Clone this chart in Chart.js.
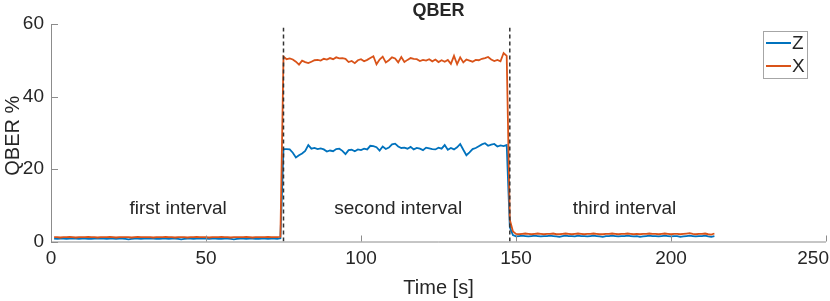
<!DOCTYPE html>
<html>
<head>
<meta charset="utf-8">
<script src="https://cdn.jsdelivr.net/npm/chart.js@4/dist/chart.umd.min.js"></script>
<style>
  html, body { margin: 0; padding: 0; background: #fff; }
  #wrap { width: 830px; height: 301px; }
</style>
</head>
<body>
<div id="wrap"><canvas id="qberChart"></canvas></div>
<script>
// QBER samples, one per second starting at t = 1 s
const zValues = [
  0.8,0.7,0.8,0.8,0.7,0.8,0.9,0.8,0.7,0.8,
  0.8,0.7,0.7,0.8,0.8,0.9,0.8,0.7,0.8,0.8,
  0.7,0.8,0.8,0.7,0.6,0.7,0.8,0.8,0.7,0.8,
  0.8,0.9,0.8,0.7,0.7,0.8,0.8,0.7,0.8,0.8,
  0.7,0.6,0.7,0.8,0.8,0.7,0.8,0.9,0.8,0.8,
  0.7,0.8,0.8,0.7,0.7,0.8,0.8,0.7,0.6,0.7,
  0.8,0.8,0.7,0.8,0.8,0.7,0.7,0.8,0.8,0.7,
  0.8,0.8,0.7,0.9,
  25.5,25.5,25.4,24.5,23.2,23.8,24.3,25.0,26.6,25.6,
  25.8,25.5,25.7,25.4,24.8,25.1,24.9,25.5,25.6,25.0,
  24.1,25.2,25.3,24.9,25.4,25.2,25.6,25.4,26.4,26.3,
  26.0,25.1,26.2,25.5,25.9,26.8,27.0,26.2,25.8,25.9,
  25.6,26.1,25.4,25.8,25.6,25.2,25.9,25.7,25.5,25.4,
  25.9,25.6,26.6,25.3,25.8,25.4,26.0,26.9,25.3,23.8,
  24.6,25.5,25.8,26.3,26.8,27.1,26.4,26.7,26.9,26.2,
  26.5,26.3,26.6,
  4.0,1.8,1.4,1.5,1.6,1.5,1.4,1.5,1.6,1.5,
  1.4,1.5,1.5,1.6,1.5,1.4,1.3,1.5,1.6,1.5,
  1.5,1.4,1.6,1.5,1.5,1.4,1.5,1.6,1.5,1.4,
  1.3,1.5,1.5,1.6,1.5,1.4,1.5,1.5,1.6,1.5,
  1.4,1.5,1.3,1.4,1.5,1.6,1.5,1.5,1.4,1.5,
  1.6,1.5,1.4,1.5,1.5,1.3,1.4,1.5,1.6,1.5,
  1.4,1.5,1.5,1.6,1.4,1.3,1.5
];
const xValues = [
  1.2,1.2,1.1,1.2,1.2,1.3,1.2,1.1,1.2,1.2,
  1.2,1.3,1.2,1.2,1.1,1.2,1.2,1.2,1.3,1.2,
  1.1,1.2,1.2,1.2,1.2,1.1,1.2,1.3,1.2,1.2,
  1.2,1.2,1.1,1.2,1.2,1.2,1.3,1.2,1.2,1.1,
  1.2,1.2,1.2,1.1,1.2,1.2,1.3,1.2,1.2,1.2,
  1.1,1.2,1.2,1.2,1.3,1.2,1.2,1.1,1.2,1.2,
  1.2,1.2,1.3,1.2,1.1,1.2,1.2,1.2,1.2,1.3,
  1.2,1.2,1.2,1.3,
  51.0,50.3,50.5,50.2,49.6,48.8,49.9,49.5,49.2,49.6,
  50.0,50.1,49.9,50.4,50.2,50.6,50.3,50.8,50.5,50.6,
  50.4,49.5,49.8,49.2,50.0,50.3,49.7,50.1,50.6,51.1,
  48.9,50.2,51.0,49.4,50.0,50.8,50.5,49.4,50.9,49.5,
  50.1,50.6,50.4,50.3,49.8,50.1,49.9,50.3,49.7,50.2,
  49.5,50.0,49.6,50.1,49.0,51.2,48.9,50.8,49.4,50.2,
  49.9,49.6,50.1,50.0,50.4,50.6,50.9,50.2,49.8,50.1,
  49.7,52.0,51.2,
  6.0,2.8,2.1,2.0,2.1,2.2,2.1,2.0,2.1,2.2,
  2.1,2.0,2.1,2.1,2.2,2.0,2.0,2.1,2.2,2.1,
  2.0,2.1,2.2,2.1,2.0,2.1,2.1,2.2,2.1,2.0,
  2.0,2.1,2.1,2.2,2.1,2.0,2.1,2.1,2.2,2.1,
  2.0,2.1,2.0,2.1,2.1,2.2,2.1,2.1,2.0,2.1,
  2.2,2.1,2.0,2.1,2.1,2.0,2.1,2.2,2.3,2.1,
  2.0,2.1,2.1,2.2,2.0,1.9,2.2
];
const intervalBounds = [75, 148];          // dashed separators [s]
const intervalNames = ['first interval', 'second interval', 'third interval'];
const intervalLabelAt = [41, 112, 185];    // label centres [s]
const intervalLabelY = 9;                  // label height [%]
const timeTicks = [0, 50, 100, 150, 200, 250];
const qberTicks = [0, 20, 40, 60];

const blue = '#0072BD';
const orange = '#D95319';
const axisGray = '#8c8c8c';
const textColor = '#262626';
const FONT = '"Liberation Sans", Arial, sans-serif';

const toPoints = vals => vals.map((v, i) => ({ x: i + 1, y: v }));

const boundaryDatasets = intervalBounds.map(t => ({
  label: 'bound' + t,
  data: [{ x: t, y: 0 }, { x: t, y: 59 }],
  borderColor: '#333333',
  borderWidth: 1.5,
  borderDash: [4, 3],
  pointRadius: 0,
  order: 0
}));

const matlabLook = {
  id: 'matlabLook',
  afterDraw(chart) {
    const { ctx, chartArea: a, scales: { x, y } } = chart;
    ctx.save();
    // axes lines + inward ticks
    ctx.strokeStyle = axisGray;
    ctx.lineWidth = 1;
    ctx.beginPath();
    ctx.moveTo(a.left + 0.5, a.top);
    ctx.lineTo(a.left + 0.5, a.bottom + 0.5);
    ctx.lineTo(a.right, a.bottom + 0.5);
    timeTicks.forEach(t => {
      const px = Math.round(x.getPixelForValue(t)) + 0.5;
      ctx.moveTo(px, a.bottom);
      ctx.lineTo(px, a.bottom - 6);
    });
    qberTicks.forEach(v => {
      const py = Math.round(y.getPixelForValue(v)) + 0.5;
      ctx.moveTo(a.left, py);
      ctx.lineTo(a.left + 7, py);
    });
    ctx.stroke();

    // tick labels
    ctx.fillStyle = textColor;
    ctx.font = '19px ' + FONT;
    ctx.textBaseline = 'middle';
    ctx.textAlign = 'right';
    qberTicks.forEach(v => ctx.fillText(String(v), a.left - 7, y.getPixelForValue(v)));
    ctx.textAlign = 'center';
    timeTicks.forEach(t => {
      const s = String(t);
      let px = x.getPixelForValue(t);
      const w = ctx.measureText(s).width;
      px = Math.min(px, chart.width - 1 - w / 2);
      ctx.fillText(s, px, a.bottom + 17);
    });

    // axis titles
    ctx.font = '20px ' + FONT;
    ctx.fillText('Time [s]', (a.left + a.right) / 2, a.bottom + 47);
    ctx.save();
    ctx.translate(13, (a.top + a.bottom) / 2 + 3);
    ctx.rotate(-Math.PI / 2);
    ctx.fillText('QBER %', 0, 0);
    ctx.restore();

    // title
    ctx.font = 'bold 18px ' + FONT;
    ctx.fillText('QBER', (a.left + a.right) / 2, 11);

    // interval labels
    ctx.font = '19px ' + FONT;
    intervalNames.forEach((n, i) => {
      ctx.fillText(n, x.getPixelForValue(intervalLabelAt[i]), y.getPixelForValue(intervalLabelY));
    });

    // legend
    const lx = 763.5, ly = 31.5, lw = 44, lh = 47;
    ctx.fillStyle = '#fff';
    ctx.fillRect(lx, ly, lw, lh);
    ctx.strokeStyle = '#a6a6a6';
    ctx.lineWidth = 1;
    ctx.strokeRect(lx, ly, lw, lh);
    [[blue, 'Z', 43], [orange, 'X', 66]].forEach(([c, s, yy]) => {
      ctx.strokeStyle = c;
      ctx.lineWidth = 2;
      ctx.beginPath();
      ctx.moveTo(766, yy);
      ctx.lineTo(791, yy);
      ctx.stroke();
      ctx.fillStyle = textColor;
      ctx.font = '19px ' + FONT;
      ctx.textAlign = 'left';
      ctx.fillText(s, 792, yy + 1);
    });
    ctx.restore();
  }
};

new Chart(document.getElementById('qberChart'), {
  type: 'line',
  data: {
    datasets: [
      { label: 'Z', data: toPoints(zValues), borderColor: blue, borderWidth: 1.8, pointRadius: 0, order: 2 },
      { label: 'X', data: toPoints(xValues), borderColor: orange, borderWidth: 1.8, pointRadius: 0, order: 1 },
      ...boundaryDatasets
    ]
  },
  options: {
    responsive: true,
    maintainAspectRatio: false,
    animation: false,
    layout: { padding: { top: 24, right: 4, left: 0, bottom: 0 } },
    plugins: { legend: { display: false }, tooltip: { enabled: false }, title: { display: false } },
    scales: {
      x: {
        type: 'linear', min: 0, max: 250,
        grid: { display: false }, border: { display: false },
        ticks: { display: false },
        afterFit(s) { s.height = 59.5; s.paddingLeft = 0; s.paddingRight = 0; }
      },
      y: {
        min: 0, max: 60,
        grid: { display: false }, border: { display: false },
        ticks: { display: false },
        afterFit(s) { s.width = 51; s.paddingTop = 0; s.paddingBottom = 0; }
      }
    }
  },
  plugins: [matlabLook]
});
</script>
</body>
</html>
